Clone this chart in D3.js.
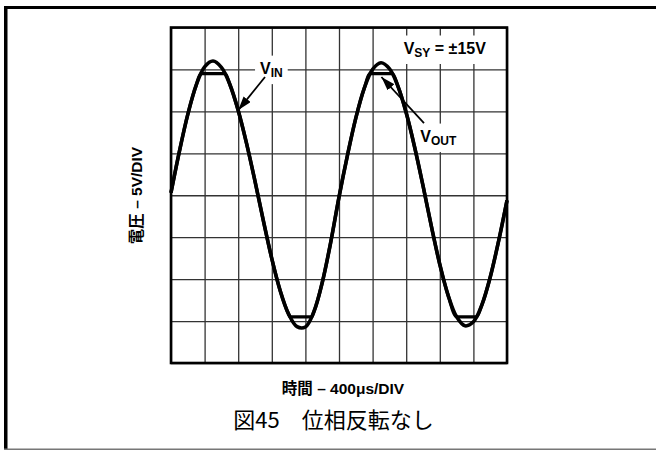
<!DOCTYPE html>
<html><head><meta charset="utf-8">
<script src="https://cdn.jsdelivr.net/npm/d3@7"></script>
<style>body{margin:0;background:#fff} svg{display:block}</style>
</head><body><svg id="c" width="656" height="450"></svg>
<script>
// ---- data (time in µs, voltage in V) ----
const timeUs = [0,100,200,300,400,500,600,700,800,900,1000,1100,1200,1300,1400,1500,1600,1700,1800,1900,2000,
  2100,2200,2300,2400,2500,2600,2700,2800,2900,3000,3100,3200,3300,3400,3500,3600,3700,3800,3900,4000];
const vin = [0.30,5.23,9.64,13.12,15.31,16.00,15.25,13.23,10.11,6.16,1.67,-3.05,-7.56,-11.38,-14.17,-15.67,-15.71,-13.92,-10.43,-5.68,-0.22,
  4.73,9.19,12.73,15.01,15.80,15.10,13.04,9.83,5.75,1.14,-3.72,-8.25,-11.96,-14.49,-15.57,-15.09,-13.09,-9.77,-5.47,-0.60];
const voutTime = [0,100,200,300,355,400,500,600,645,700,800,900,1000,1100,1200,1300,1400,1417,1500,1600,1676,1700,1800,1900,2000,
  2100,2200,2300,2371,2400,2500,2600,2636,2700,2800,2900,3000,3100,3200,3300,3401,3500,3600,3638,3700,3800,3900,4000];
const vout = [0.30,5.23,9.64,13.12,14.5,14.5,14.5,14.5,14.5,13.23,10.11,6.16,1.67,-3.05,-7.56,-11.38,-14.17,-14.5,-14.5,-14.5,-14.5,-13.92,-10.43,-5.68,-0.22,
  4.73,9.19,12.73,14.5,14.5,14.5,14.5,14.5,13.04,9.83,5.75,1.14,-3.72,-8.25,-11.96,-14.5,-14.5,-14.5,-14.5,-13.09,-9.77,-5.47,-0.60];
const xGrid = [0,400,800,1200,1600,2000,2400,2800,3200,3600,4000];
const yGrid = [-20,-15,-10,-5,0,5,10,15,20];

// annotations in data units
const labelNames = ["VIN","VOUT","VSY"];
const labelMain = ["V","V","V"];
const labelSub = ["IN","OUT","SY"];
const labelRest = ["","", " = ±15V"];
const labelT = [1060, 2968, 2770];
const labelV = [14.5, 6.4, 16.9];
const arrowFromT = [1119, 3012];
const arrowFromV = [14.1, 8.6];
const arrowToT = [801, 2505];
const arrowToV = [10.15, 14.1];

const xTitle = "時間 – 400μs/DIV";
const yTitle = "電圧 – 5V/DIV";
const figTitle = "図45　位相反転なし";

// ---- drawing ----
const svg = d3.select("#c");
const L = 171, R = 507, T = 27.5, B = 363;
const x = d3.scaleLinear().domain([0,4000]).range([L,R]);
const y = d3.scaleLinear().domain([-20,20]).range([B,T]);
const font = "'Liberation Sans', Arial, 'Noto Sans CJK JP', sans-serif";

// outer frame
svg.append("rect").attr("x",0).attr("y",0).attr("width",656).attr("height",450).attr("fill","#fff");
svg.append("rect").attr("x",4).attr("y",6).attr("width",652).attr("height",3).attr("fill","#000");
svg.append("rect").attr("x",4).attr("y",6).attr("width",3.5).attr("height",444).attr("fill","#000");
svg.append("rect").attr("x",4).attr("y",448.5).attr("width",652).attr("height",1.5).attr("fill","#777");

// grid
const gx = svg.append("g").attr("transform",`translate(0,${B})`)
  .call(d3.axisBottom(x).tickValues(xGrid).tickSize(-(B-T)).tickFormat(""));
gx.select(".domain").remove();
gx.selectAll("line").attr("stroke","#333").attr("stroke-width",1.3);
const gy = svg.append("g").attr("transform",`translate(${L},0)`)
  .call(d3.axisLeft(y).tickValues(yGrid).tickSize(-(R-L)).tickFormat(""));
gy.select(".domain").remove();
gy.selectAll("line").attr("stroke","#333").attr("stroke-width",1.3);

// labels with white boxes
const labG = svg.append("g");
labelNames.forEach((n,i)=>{
  const g = labG.append("g");
  const t = g.append("text").attr("x",x(labelT[i])).attr("y",y(labelV[i]))
    .attr("font-family",font).attr("font-weight","bold").attr("font-size",16).attr("fill","#000");
  t.append("tspan").text(labelMain[i]);
  t.append("tspan").attr("font-size",12).attr("dy",3.5).text(labelSub[i]);
  if (labelRest[i]) t.append("tspan").attr("dy",-3.5).text(labelRest[i]);
  const bb = t.node().getBBox();
  const padX = i===2 ? 10 : 5, padY = 4;
  g.insert("rect","text").attr("x",bb.x-padX).attr("y",bb.y-padY)
    .attr("width",bb.width+2*padX).attr("height",bb.height+2*padY).attr("fill","#fff");
});

// plot border
svg.append("rect").attr("x",L).attr("y",T).attr("width",R-L).attr("height",B-T)
  .attr("fill","none").attr("stroke","#000").attr("stroke-width",2.6);

// curves
const voutPts = voutTime.map((t,i)=>[t,vout[i]]);
const vinPts = timeUs.map((t,i)=>[t,vin[i]]);
svg.append("path").datum(voutPts)
  .attr("d", d3.line().x(d=>x(d[0])).y(d=>y(d[1])).curve(d3.curveMonotoneX))
  .attr("fill","none").attr("stroke","#000").attr("stroke-width",3.4).attr("stroke-linejoin","round");
svg.append("path").datum(vinPts)
  .attr("d", d3.line().x(d=>x(d[0])).y(d=>y(d[1])).curve(d3.curveCatmullRom.alpha(0.5)))
  .attr("fill","none").attr("stroke","#000").attr("stroke-width",3.6).attr("stroke-linejoin","round");

// arrows
const defs = svg.append("defs");
defs.append("marker").attr("id","ah").attr("markerUnits","userSpaceOnUse")
  .attr("markerWidth",15).attr("markerHeight",9).attr("refX",14).attr("refY",4.5).attr("orient","auto")
  .append("path").attr("d","M0,0 L14,4.5 L0,9 Z").attr("fill","#000");
arrowFromT.forEach((t,i)=>{
  svg.append("line").attr("x1",x(t)).attr("y1",y(arrowFromV[i]))
    .attr("x2",x(arrowToT[i])).attr("y2",y(arrowToV[i]))
    .attr("stroke","#000").attr("stroke-width",1.8).attr("marker-end","url(#ah)");
});

// axis titles
svg.append("text").attr("x",343).attr("y",394).attr("text-anchor","middle")
  .attr("font-family",font).attr("font-weight","bold").attr("font-size",15.5).text(xTitle);
svg.append("text").attr("transform","translate(141.5,195.5) rotate(-90)").attr("text-anchor","middle")
  .attr("font-family",font).attr("font-weight","bold").attr("font-size",15.5).text(yTitle);
svg.append("text").attr("x",333.5).attr("y",428).attr("text-anchor","middle")
  .attr("font-family","'Noto Sans CJK JP', 'Liberation Sans', sans-serif").attr("font-size",22).text(figTitle);
</script></body></html>
